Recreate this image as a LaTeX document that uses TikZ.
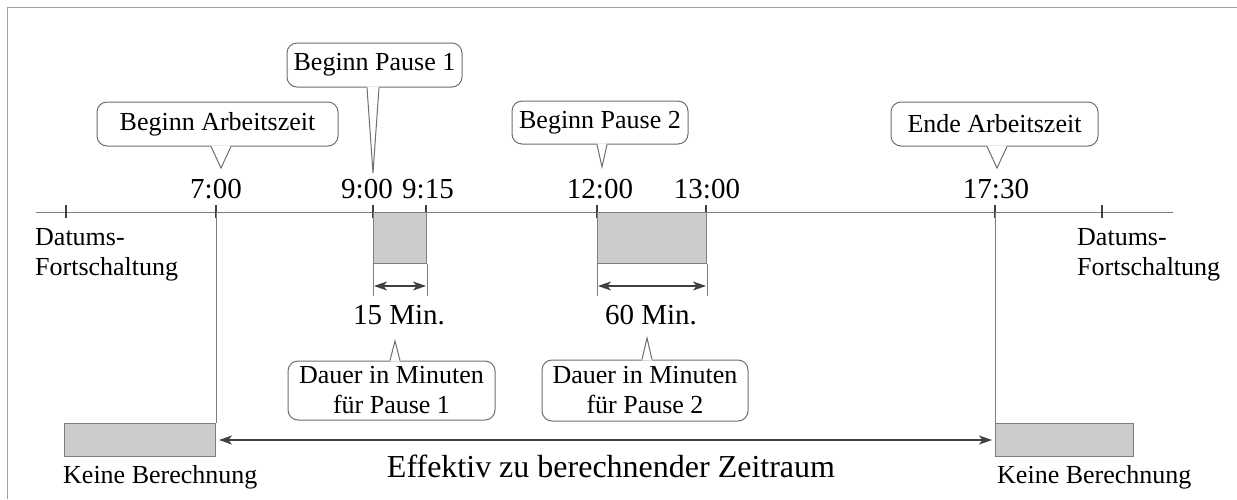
\documentclass[tikz,border=0pt]{standalone}
\usepackage{fontspec}
\setmainfont{Liberation Serif}
\usetikzlibrary{arrows.meta,calc}
\definecolor{linegray}{RGB}{125,125,125}
\definecolor{bubblegray}{RGB}{110,110,110}
\definecolor{boxgray}{RGB}{204,204,204}
\definecolor{framegray}{RGB}{160,160,160}
\tikzset{
  tl/.style={font=\fontsize{29}{33}\selectfont, anchor=base, inner sep=0pt},
  lbl/.style={font=\fontsize{26}{30}\selectfont, inner sep=0pt},
  bubble/.style={draw=bubblegray, fill=white, rounded corners=10pt, line width=1pt,
    font=\fontsize{26}{30}\selectfont, align=center, inner sep=0pt},
  bline/.style={draw=bubblegray, line width=1pt},
  tickmark/.style={draw=black!75, line width=1.3pt},
  gline/.style={draw=linegray, line width=1pt},
  framestyle/.style={draw=framegray, line width=1pt},
  pausebox/.style={fill=boxgray, draw=linegray, line width=1pt, inner sep=0pt},
  dim/.style={draw=black!75, line width=1.1pt,
    {Stealth[length=13pt,width=9pt,inset=3.5pt]}-{Stealth[length=13pt,width=9pt,inset=3.5pt]}},
}
\newcommand\calloutptr[4]{%
  \fill[white] ($(#2 |- #1)+(-#3,#4)$) -- (#2) -- ($(#2 |- #1)+(#3,#4)$) -- cycle;
  \draw[bline] ($(#2 |- #1)+(-#3,0)$) -- (#2) -- ($(#2 |- #1)+(#3,0)$);
}
\begin{document}
\begin{tikzpicture}[x=1pt,y=-1pt]
\useasboundingbox (0,0) rectangle (1237,499);
% frame
\draw[framestyle] (7,499) -- (7,7) -- (1237,7);

% timeline
\coordinate (L) at (36,212);
\coordinate (R) at (1173,212);
\draw[gline] (L) -- (R);
\foreach \n/\x in {d1/66, t7/216, t9/373, t915/426, t12/597, t13/706, t1730/995, d2/1102} {
  \coordinate (\n) at (\x,212);
  \draw[tickmark] (\x,205) -- (\x,218);
}

% time labels
\node[tl] (l7) at (216,198) {7:00};
\node[tl] (l9) at (367,198) {9:00};
\node[tl] (l915) at (428,198) {9:15};
\node[tl] (l12) at (600,198) {12:00};
\node[tl] (l13) at (707,198) {13:00};
\node[tl] (l1730) at (996,198) {17:30};

% pause boxes
\node[pausebox, minimum width=53pt, minimum height=51pt, anchor=north west] (p1) at (t9) {};
\node[pausebox, minimum width=109pt, minimum height=51pt, anchor=north west] (p2) at (t12) {};
\draw[gline] (p1.south west) -- ++(0,32);
\draw[gline] (p1.south east) -- ++(0,32);
\draw[gline] (p2.south west) -- ++(0,32);
\draw[gline] (p2.south east) -- ++(0,32);
\draw[dim] ($(p1.south west)+(1,22)$) -- ($(p1.south east)+(-1,22)$);
\draw[dim] ($(p2.south west)+(1,22)$) -- ($(p2.south east)+(-1,22)$);
\node[tl] (m1) at (399,324) {15 Min.};
\node[tl] (m2) at (651,324) {60 Min.};

% no-calculation boxes
\node[pausebox, minimum width=151pt, minimum height=33pt, anchor=north east] (k1) at (216,423) {};
\node[pausebox, minimum width=138pt, minimum height=33pt, anchor=north west] (k2) at (995,423) {};
\draw[gline] (t7) -- (k1.north east);
\draw[gline] (t1730) -- (k2.north west);
\draw[dim, shorten <=3pt, shorten >=3pt] (k1.east) -- (k2.west);
\node[font=\fontsize{32}{36}\selectfont, anchor=base, inner sep=0pt] (eff) at (611,477) {Effektiv zu berechnender Zeitraum};
\node[lbl, anchor=base west] (kl1) at (63,483) {Keine Berechnung};
\node[lbl, anchor=base west] (kl2) at (997,483) {Keine Berechnung};

% date labels
\node[lbl, align=left, anchor=north west] (dl1) at (35,228) {Datums-\\Fortschaltung};
\node[lbl, align=left, anchor=north west] (dl2) at (1077,228) {Datums-\\Fortschaltung};

% callouts
\node[bubble, minimum width=241pt, minimum height=44pt] (b1) at (217.5,124) {Beginn Arbeitszeit};
\node[bubble, minimum width=175pt, minimum height=44pt] (b2) at (374.5,65) {Beginn Pause 1};
\node[bubble, minimum width=176pt, minimum height=43pt] (b3) at (600,122.5) {Beginn Pause 2};
\node[bubble, minimum width=207pt, minimum height=44pt] (b4) at (994.5,124) {Ende Arbeitszeit};
\node[bubble, minimum width=207pt, minimum height=59pt] (b5) at (391.5,390.5) {Dauer in Minuten\\für Pause 1};
\node[bubble, minimum width=206pt, minimum height=61pt] (b6) at (645,390.5) {Dauer in Minuten\\für Pause 2};

\coordinate (tp1) at (221,168);
\coordinate (tp2) at (373,173);
\coordinate (tp3) at (602,167);
\coordinate (tp4) at (997,168);
\coordinate (tp5) at (395,341);
\coordinate (tp6) at (647,338);
\calloutptr{b1.south}{tp1}{10}{-1.2}
\calloutptr{b2.south}{tp2}{6}{-1.2}
\calloutptr{b3.south}{tp3}{5}{-1.2}
\calloutptr{b4.south}{tp4}{10}{-1.2}
\calloutptr{b5.north}{tp5}{5}{1.2}
\calloutptr{b6.north}{tp6}{5}{1.2}
\end{tikzpicture}
\end{document}
